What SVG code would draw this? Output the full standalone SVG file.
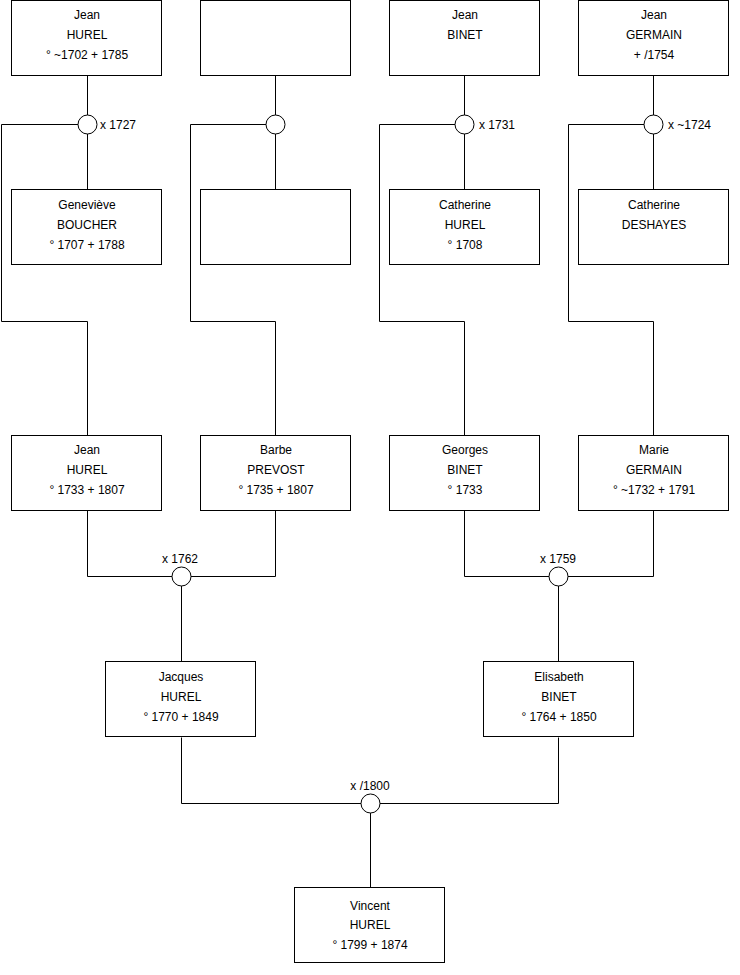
<svg xmlns="http://www.w3.org/2000/svg" width="740" height="975" viewBox="0 0 740 975">
<style>
.box{fill:#fff;stroke:#000;stroke-width:1}
.m{fill:#fff;stroke:#000;stroke-width:1}
.c{fill:none;stroke:#000;stroke-width:1}
text{font-family:"Liberation Sans",Arial,sans-serif;font-size:12px;fill:#000}
.t{text-anchor:middle}
</style>
<rect width="740" height="975" fill="#fff"/>
<g id="connectors">
<path class="c" d="M87.5 75.5V189.5M275.5 75.5V189.5M464.5 75.5V189.5M653.5 75.5V189.5"/>
<path class="c" d="M87.5 124.5H1.5V321.5H87.5V435.5"/>
<path class="c" d="M275.5 124.5H190.5V321.5H275.5V435.5"/>
<path class="c" d="M464.5 124.5H379.5V321.5H464.5V435.5"/>
<path class="c" d="M653.5 124.5H568.5V321.5H653.5V435.5"/>
<path class="c" d="M87.5 510.5V576.5H275.5V510.5M181.5 576.5V661.5"/>
<path class="c" d="M464.5 510.5V576.5H653.5V510.5M558.5 576.5V661.5"/>
<path class="c" d="M181.5 737.5V803.5H558.5V737.5M370.5 803.5V887.5"/>
</g>
<g id="m1727"><circle class="m" cx="87.5" cy="124.5" r="9.5"/><text x="100" y="129">x 1727</text></g>
<g id="m2"><circle class="m" cx="275.5" cy="124.5" r="9.5"/></g>
<g id="m1731"><circle class="m" cx="464.5" cy="124.5" r="9.5"/><text x="479" y="129">x 1731</text></g>
<g id="m1724"><circle class="m" cx="653.5" cy="124.5" r="9.5"/><text x="668" y="129">x ~1724</text></g>
<g id="m1762"><circle class="m" cx="181.5" cy="576.5" r="9.5"/><text class="t" x="180" y="563">x 1762</text></g>
<g id="m1759"><circle class="m" cx="558.5" cy="576.5" r="9.5"/><text class="t" x="558" y="563">x 1759</text></g>
<g id="m1800"><circle class="m" cx="370.5" cy="803.5" r="9.5"/><text class="t" x="370" y="790">x /1800</text></g>
<g id="n1"><rect class="box" x="11.5" y="0.5" width="150" height="75"/><text class="t" x="87" y="19">Jean</text><text class="t" x="87" y="39">HUREL</text><text class="t" x="87" y="59">° ~1702 + 1785</text></g>
<g id="n2"><rect class="box" x="200.5" y="0.5" width="150" height="75"/></g>
<g id="n3"><rect class="box" x="389.5" y="0.5" width="150" height="75"/><text class="t" x="465" y="19">Jean</text><text class="t" x="465" y="39">BINET</text></g>
<g id="n4"><rect class="box" x="578.5" y="0.5" width="150" height="75"/><text class="t" x="654" y="19">Jean</text><text class="t" x="654" y="39">GERMAIN</text><text class="t" x="654" y="59">+ /1754</text></g>
<g id="n5"><rect class="box" x="11.5" y="189.5" width="150" height="75"/><text class="t" x="87" y="209">Geneviève</text><text class="t" x="87" y="229">BOUCHER</text><text class="t" x="87" y="249">° 1707 + 1788</text></g>
<g id="n6"><rect class="box" x="200.5" y="189.5" width="150" height="75"/></g>
<g id="n7"><rect class="box" x="389.5" y="189.5" width="150" height="75"/><text class="t" x="465" y="209">Catherine</text><text class="t" x="465" y="229">HUREL</text><text class="t" x="465" y="249">° 1708</text></g>
<g id="n8"><rect class="box" x="578.5" y="189.5" width="150" height="75"/><text class="t" x="654" y="209">Catherine</text><text class="t" x="654" y="229">DESHAYES</text></g>
<g id="n9"><rect class="box" x="11.5" y="435.5" width="150" height="75"/><text class="t" x="87" y="454">Jean</text><text class="t" x="87" y="474">HUREL</text><text class="t" x="87" y="494">° 1733 + 1807</text></g>
<g id="n10"><rect class="box" x="200.5" y="435.5" width="150" height="75"/><text class="t" x="276" y="454">Barbe</text><text class="t" x="276" y="474">PREVOST</text><text class="t" x="276" y="494">° 1735 + 1807</text></g>
<g id="n11"><rect class="box" x="389.5" y="435.5" width="150" height="75"/><text class="t" x="465" y="454">Georges</text><text class="t" x="465" y="474">BINET</text><text class="t" x="465" y="494">° 1733</text></g>
<g id="n12"><rect class="box" x="578.5" y="435.5" width="150" height="75"/><text class="t" x="654" y="454">Marie</text><text class="t" x="654" y="474">GERMAIN</text><text class="t" x="654" y="494">° ~1732 + 1791</text></g>
<g id="n13"><rect class="box" x="105.5" y="661.5" width="150" height="75"/><text class="t" x="181" y="681">Jacques</text><text class="t" x="181" y="701">HUREL</text><text class="t" x="181" y="721">° 1770 + 1849</text></g>
<g id="n14"><rect class="box" x="483.5" y="661.5" width="150" height="75"/><text class="t" x="559" y="681">Elisabeth</text><text class="t" x="559" y="701">BINET</text><text class="t" x="559" y="721">° 1764 + 1850</text></g>
<g id="n15"><rect class="box" x="294.5" y="887.5" width="150" height="75"/><text class="t" x="370" y="910">Vincent</text><text class="t" x="370" y="929">HUREL</text><text class="t" x="370" y="949">° 1799 + 1874</text></g>
</svg>
